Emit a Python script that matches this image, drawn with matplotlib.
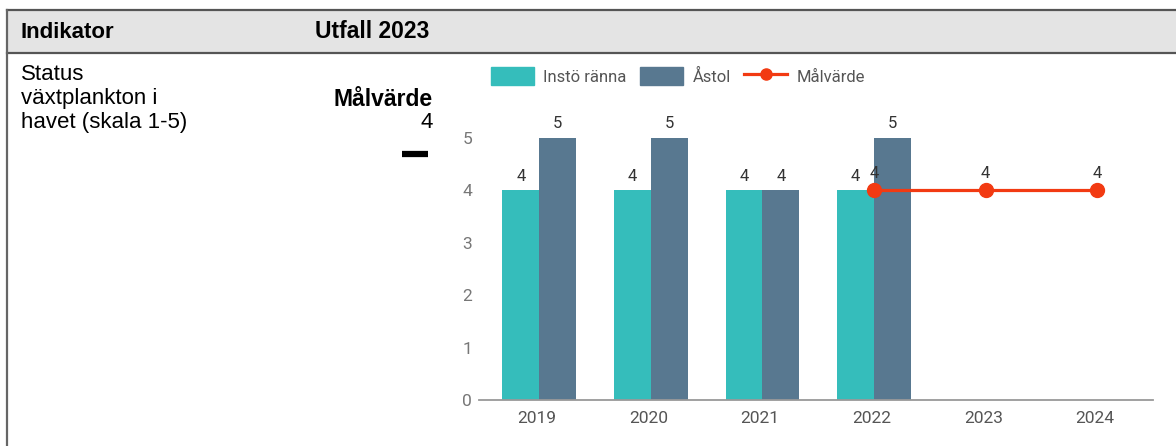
import numpy as np
import matplotlib.pyplot as plt
from matplotlib.patches import Rectangle
from matplotlib.lines import Line2D

# data
years = ["2019", "2020", "2021", "2022", "2023", "2024"]
insto_ranna = [4, 4, 4, 4, None, None]
astol = [5, 5, 4, 5, None, None]
malvarde = [None, None, None, 4, 4, 4]

series_names = ["Instö ränna", "Åstol", "Målvärde"]
col_insto = "#35BDBB"
col_astol = "#587890"
col_mal = "#F23A12"

W, H = 1176, 446
fig = plt.figure(figsize=(W / 100, H / 100), dpi=100)


def px(x, y):
    # pixel coords (top-left origin) -> figure fraction
    return x / W, 1 - y / H


# --- table frame ---
fig.add_artist(Rectangle(px(7, 52), (W - 7) / W, 43 / H, transform=fig.transFigure,
                         facecolor="#E4E4E4", edgecolor="none", zorder=0))
for yy in (9.5, 52.5):
    fig.add_artist(Line2D([7 / W, 1], [1 - yy / H] * 2, transform=fig.transFigure,
                          color="#555555", lw=1.6))
fig.add_artist(Line2D([7 / W] * 2, [0, 1 - 9.5 / H], transform=fig.transFigure,
                      color="#666666", lw=1.6))

tfont = "Liberation Sans"
fig.text(*px(21, 32), "Indikator", fontsize=16, fontweight="bold", family=tfont, va="center")
fig.text(*px(315, 32), "Utfall 2023", fontsize=16.5, fontweight="bold", family=tfont, va="center")
fig.text(*px(21, 64), "Status\nväxtplankton i\nhavet (skala 1-5)", fontsize=16, family=tfont,
         va="top", linespacing=1.2)
fig.text(*px(433, 100), "Målvärde", fontsize=16.5, fontweight="bold", family=tfont,
         ha="right", va="center")
fig.text(*px(433, 123), "4", fontsize=16, family=tfont, ha="right", va="center")
fig.add_artist(Line2D([402 / W, 428 / W], [1 - 154 / H] * 2, transform=fig.transFigure,
                      color="black", lw=4.5, solid_capstyle="butt"))

# --- chart ---
ytop = 5.5
ax = fig.add_axes([479 / W, 46 / H, (1153 - 479) / W, ytop * 52.4 / H])
x = np.arange(len(years))
bw = 0.33
cfont = "Roboto"
lab = dict(textcoords="offset points", ha="center", fontsize=12, color="#333333", family=cfont)

ins = [np.nan if v is None else v for v in insto_ranna]
ast = [np.nan if v is None else v for v in astol]
mal = [np.nan if v is None else v for v in malvarde]

ax.bar(x - bw / 2 + 0.02, ins, bw, color=col_insto, zorder=2)
ax.bar(x + bw / 2 + 0.02, ast, bw, color=col_astol, zorder=2)
ax.plot(x + 0.02, mal, color=col_mal, lw=2.3, marker="o", ms=10, zorder=3)

for i in range(len(years)):
    if not np.isnan(ins[i]):
        ax.annotate(f"{ins[i]:g}", (x[i] - bw / 2 + 0.02, ins[i]), xytext=(0, 7), **lab)
    if not np.isnan(ast[i]):
        ax.annotate(f"{ast[i]:g}", (x[i] + bw / 2 + 0.02, ast[i]), xytext=(0, 7), **lab)
    if not np.isnan(mal[i]):
        ax.annotate(f"{mal[i]:g}", (x[i] + 0.02, mal[i]), xytext=(0, 9), **lab)

ax.set_xlim(-0.52, len(years) - 0.48)
ax.set_ylim(0, ytop)
ax.set_xticks(x)
ax.set_xticklabels(years, fontsize=12.5, color="#555555", family=cfont)
ax.set_yticks(range(0, 6))
ax.set_yticklabels([str(v) for v in range(0, 6)], fontsize=12.5, color="#777777", family=cfont)
ax.tick_params(length=0)
ax.tick_params(axis="x", pad=8)
ax.tick_params(axis="y", pad=5)
for s in ("top", "right", "left"):
    ax.spines[s].set_visible(False)
ax.spines["bottom"].set_color("#999999")
ax.spines["bottom"].set_linewidth(1.3)

handles = [
    Rectangle((0, 0), 1, 1, color=col_insto),
    Rectangle((0, 0), 1, 1, color=col_astol),
    Line2D([], [], color=col_mal, lw=2.3, marker="o", ms=8),
]
leg = fig.legend(handles, series_names, loc="center", bbox_to_anchor=(678 / W, 1 - 76 / H),
                 ncol=3, frameon=False, handlelength=2.6, handleheight=1.35,
                 columnspacing=0.8, handletextpad=0.55,
                 prop={"family": cfont, "size": 12})
for t in leg.get_texts():
    t.set_color("#555555")

fig.savefig("out.png", dpi=100)
